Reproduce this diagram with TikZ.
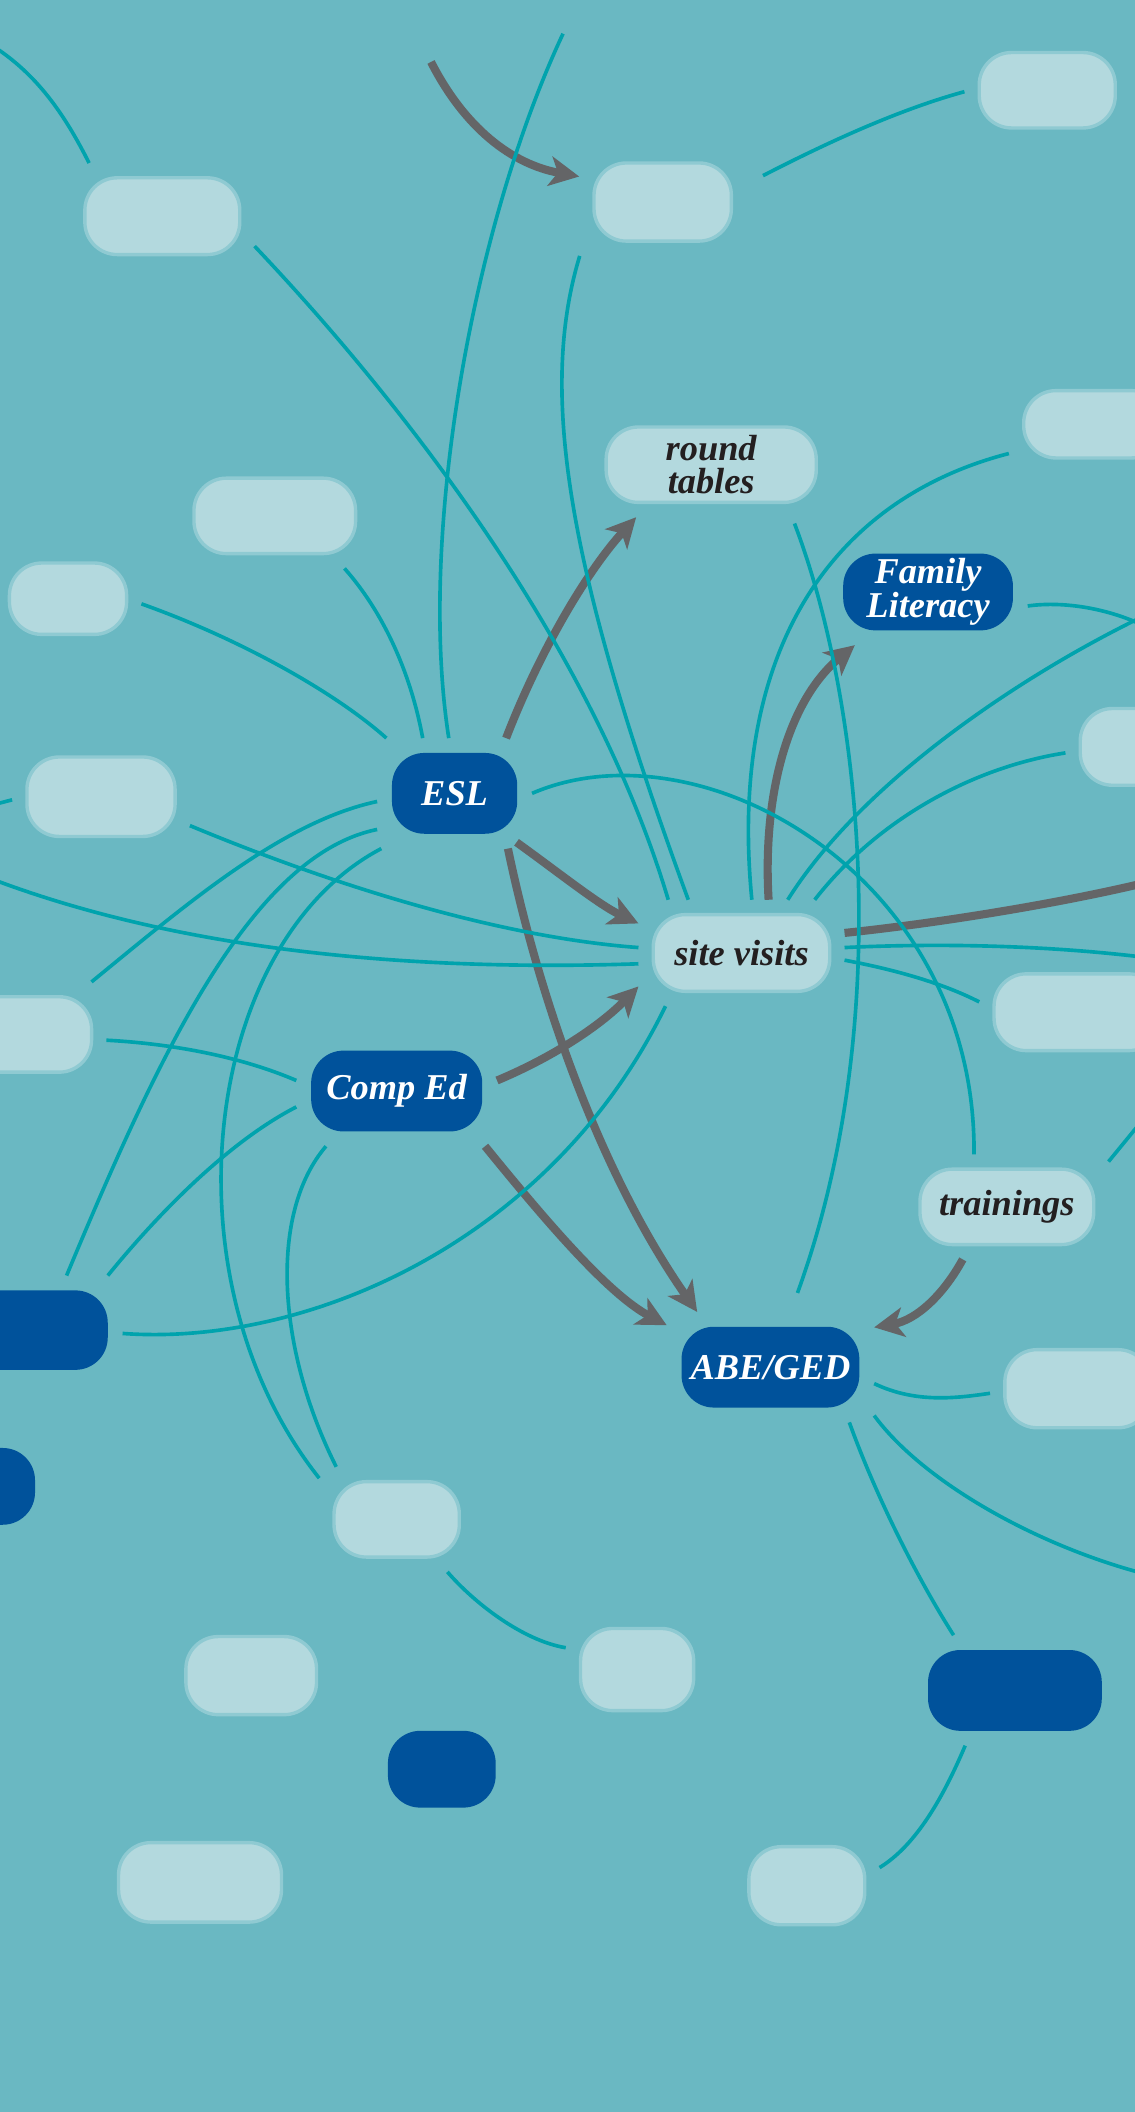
\documentclass[tikz,border=0pt]{standalone}
\usepackage{fontspec}
\setmainfont{Liberation Serif}
\usetikzlibrary{arrows.meta}

\definecolor{sea}{HTML}{6AB8C2}
\definecolor{tealline}{HTML}{00A3AD}
\definecolor{palefill}{HTML}{B3D9DE}
\definecolor{paleedge}{HTML}{8FCAD2}
\definecolor{deepfill}{HTML}{00529B}
\definecolor{arrowgray}{HTML}{646567}
\definecolor{ink}{HTML}{231F20}

\tikzset{
	pill/.style={rounded corners=24pt, inner sep=3pt, outer sep=11pt, align=center, font=\bfseries\itshape\fontsize{27}{24}\selectfont},
	pale/.style={pill, draw=paleedge, line width=2.5pt, fill=palefill, text=ink},
	deep/.style={pill, fill=deepfill, text=white},
	link/.style={draw=tealline, line width=2.7pt},
	trail/.style={draw=arrowgray, line width=6pt},
	push/.style={trail, -{Stealth[length=22pt, width=22pt, inset=6pt]}},
}

\begin{document}
\begin{tikzpicture}[x=1pt, y=-1pt]
	\useasboundingbox (0,0) rectangle (842,1568);
	\clip (-20,-20) rectangle (862,1588);
	\fill[sea] (-20,-20) rectangle (862,1588);

	\node[pale, minimum width=101pt, minimum height=56pt] (p1) at (777.5,67) {};
	\node[pale, minimum width=115pt, minimum height=57pt] (p2) at (120.5,160.5) {};
	\node[pale, minimum width=102pt, minimum height=58pt] (p3) at (492,150) {};
	\node[pale, minimum width=156pt, minimum height=56pt] (rt) at (528,345) {round\\tables};
	\node[pale, minimum width=104pt, minimum height=50pt] (p5) at (812,315) {};
	\node[pale, minimum width=120pt, minimum height=56pt] (p6) at (204,383) {};
	\node[pale, minimum width=87pt, minimum height=53pt] (p7) at (50.5,444.5) {};
	\node[pale, minimum width=80pt, minimum height=57pt] (p8) at (842,554.5) {};
	\node[pale, minimum width=110pt, minimum height=59pt] (p9) at (75,591.5) {};
	\node[pale, minimum width=131pt, minimum height=57pt] (sv) at (550.5,707.5) {site visits};
	\node[pale, minimum width=124pt, minimum height=57pt] (p11) at (800,751.5) {};
	\node[pale, minimum width=100pt, minimum height=56pt] (p12) at (18,768) {};
	\node[pale, minimum width=129pt, minimum height=56pt] (tr) at (747.5,896) {trainings};
	\node[pale, minimum width=108pt, minimum height=58pt] (p14) at (800,1031) {};
	\node[pale, minimum width=93pt, minimum height=56pt] (p15) at (294.5,1128) {};
	\node[pale, minimum width=97pt, minimum height=58pt] (p16) at (186.5,1244) {};
	\node[pale, minimum width=84pt, minimum height=61pt] (p17) at (473,1239.5) {};
	\node[pale, minimum width=121pt, minimum height=59pt] (p18) at (148.5,1397.5) {};
	\node[pale, minimum width=86pt, minimum height=58pt] (p19) at (599,1400) {};

	\node[deep, minimum width=93pt, minimum height=60pt] (esl) at (337.5,589) {ESL};
	\node[deep, minimum width=126pt, minimum height=57pt] (fl) at (689,439.5) {Family\\Literacy};
	\node[deep, minimum width=127pt, minimum height=60pt] (ce) at (294.5,810) {Comp Ed};
	\node[deep, minimum width=132pt, minimum height=60pt] (abe) at (572,1015) {ABE/GED};
	\node[deep, minimum width=120pt, minimum height=59pt] (d1) at (20,987.5) {};
	\node[deep, minimum width=72pt, minimum height=57pt] (d2) at (-10,1103.5) {};
	\node[deep, minimum width=129pt, minimum height=60pt] (d3) at (753.5,1255) {};
	\node[deep, minimum width=80pt, minimum height=57pt] (d4) at (328,1313.5) {};

	\coordinate (nw) at (-4,35);
	\coordinate (n1) at (418,25);
	\coordinate (n2) at (320,46);
	\coordinate (e1) at (852,466);
	\coordinate (e2) at (852,456);
	\coordinate (e3) at (852,711);
	\coordinate (e4) at (852,655);
	\coordinate (e5) at (852,827);
	\coordinate (e6) at (852,1169);
	\coordinate (w1) at (-5,653);
	\coordinate (w2) at (-30,604);

	\draw[push] (n2) .. controls (345,95) and (380,122) .. (p3.163);
	\draw[push] (esl.47) .. controls (400,485) and (435,425) .. (rt.215);
	\draw[push] (sv.63) .. controls (566,590) and (585,520) .. (fl.216);
	\draw[push, shorten <=-8pt] (esl.-38) .. controls (415,648) and (445,672) .. (sv.164);
	\draw[push] (esl.-46) .. controls (400,740) and (445,870) .. (abe.143);
	\draw[push] (ce.6) .. controls (410,785) and (445,762) .. (sv.198);
	\draw[push] (ce.-32) .. controls (400,900) and (450,960) .. (abe.158);
	\draw[push] (tr.230) .. controls (700,962) and (680,980) .. (abe.21);
	\draw[trail] (sv.11) .. controls (700,685) and (790,670) .. (e4);

	\draw[link] (nw) .. controls (28,56) and (48,85) .. (p2.144);
	\draw[link] (p2.-18) .. controls (300,300) and (440,480) .. (sv.144);
	\draw[link] (p3.213) .. controls (400,290) and (420,420) .. (sv.135);
	\draw[link] (n1) .. controls (350,170) and (310,400) .. (esl.96);
	\draw[link] (p6.-37) .. controls (285,455) and (305,500) .. (esl.120);
	\draw[link] (p7.-4) .. controls (180,475) and (250,515) .. (esl.141);
	\draw[link, shorten <=14pt] (p3.12) .. controls (610,108) and (665,82) .. (p1.181);
	\draw[link] (p5.199) .. controls (620,370) and (540,480) .. (sv.79);
	\draw[link, shorten <=5pt, shorten >=15pt] (rt.-33) .. controls (640,520) and (665,760) .. (abe.70);
	\draw[link] (fl.-8) .. controls (790,446) and (825,452) .. (e1);
	\draw[link] (e2) .. controls (760,500) and (640,580) .. (sv.49);
	\draw[link] (p8.185) .. controls (720,570) and (650,610) .. (sv.36);
	\draw[link] (esl.0) .. controls (520,535) and (725,650) .. (tr.122);
	\draw[link] (p9.-18) .. controls (230,650) and (360,695) .. (sv.177);
	\draw[link] (w1) .. controls (120,700) and (280,722) .. (sv.186);
	\draw[link] (p12.38) .. controls (140,670) and (210,610) .. (esl.186);
	\draw[link] (d1.54) .. controls (115,790) and (185,635) .. (esl.205);
	\draw[link] (d1.34) .. controls (110,910) and (165,850) .. (ce.189);
	\draw[link] (esl.217) .. controls (150,700) and (120,950) .. (p15.152);
	\draw[link] (ce.218) .. controls (200,900) and (205,1000) .. (p15.139);
	\draw[link] (p12.-4) .. controls (130,775) and (180,785) .. (ce.174);
	\draw[link] (d1.-2) .. controls (230,1000) and (410,920) .. (sv.215);
	\draw[link] (sv.3) .. controls (700,700) and (780,702) .. (e3);
	\draw[link] (sv.-4) .. controls (665,720) and (700,730) .. (p11.174);
	\draw[link] (e5) -- (tr.24);
	\draw[link] (abe.-9) .. controls (680,1042) and (710,1038) .. (p14.183);
	\draw[link] (abe.-25) .. controls (685,1100) and (770,1148) .. (e6);
	\draw[link] (abe.-35) .. controls (650,1110) and (680,1170) .. (d3.138);
	\draw[link] (d3.228) .. controls (700,1335) and (680,1370) .. (p19.14);
	\draw[link] (p15.-46) .. controls (352,1190) and (388,1218) .. (p17.163);
	\draw[link] (p9.182) -- (w2);
\end{tikzpicture}
\end{document}
